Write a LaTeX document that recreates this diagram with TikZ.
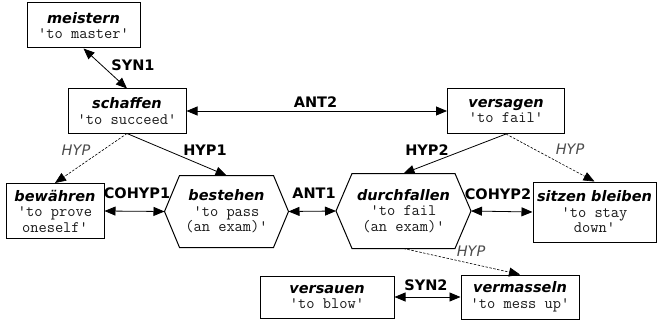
\documentclass[tikz,border=0pt]{standalone}
\usepackage{fontspec}
\setmainfont{DejaVu Sans}
\usetikzlibrary{arrows.meta}
\newcommand\nm[1]{{\bfseries\itshape #1}}
\newcommand\glf{\ttfamily\fontsize{16}{15.5}\selectfont\color{black!90}}
\newcommand\gl[1]{{\glf\textquotesingle#1\textquotesingle}}
\newcommand\gla[1]{{\glf\textquotesingle#1}}
\newcommand\glb[1]{{\glf#1\textquotesingle}}
\tikzset{
  lex/.style={draw, line width=1pt, inner sep=1pt, align=center, font=\fontsize{14.5}{15.5}\selectfont},
  hexbox/.style={lex, draw=none},
  rel/.style={line width=0.8pt, -{Triangle[length=11pt,width=9pt]}},
  birel/.style={line width=0.8pt, {Triangle[length=11pt,width=9pt]}-{Triangle[length=11pt,width=9pt]}},
  hyprel/.style={rel, dashed, dash pattern=on 2.5pt off 1.5pt, line width=0.6pt},
  lab/.style={font=\fontsize{14.5}{16}\selectfont\bfseries, inner sep=0pt},
  ilab/.style={font=\fontsize{14.5}{16}\selectfont\itshape, text=black!70, inner sep=0pt},
}
\begin{document}
\begin{tikzpicture}[x=1pt,y=-1pt]
\useasboundingbox (0,0) rectangle (659,321);
\node[lex, minimum width=113, minimum height=45] (meistern) at (83.5,25.5) {\nm{meistern}\\\gl{to master}};
\node[lex, minimum width=118, minimum height=44] (schaffen) at (127,111) {\nm{schaffen}\\\gl{to succeed}};
\node[lex, minimum width=117, minimum height=45] (versagen) at (506,111) {\nm{versagen}\\\gl{to fail}};
\node[lex, minimum width=98, minimum height=55] (bewaehren) at (55,211) {\nm{bewähren}\\\gla{to prove}\\\glb{oneself}};
\node[hexbox, minimum width=123, minimum height=71] (bestehen) at (226.5,211.5) {\nm{bestehen}\\\gla{to pass}\\\glb{(an exam)}};
\node[hexbox, minimum width=134, minimum height=74] (durchfallen) at (403.5,211) {\nm{durchfallen}\\\gla{to fail}\\\glb{(an exam)}};
\node[lex, minimum width=123, minimum height=60, inner sep=0pt] (sitzen) at (594.5,212) {\nm{sitzen bleiben}\\\gla{to stay}\\\glb{down}};
\node[lex, minimum width=134, minimum height=42] (versauen) at (327,297) {\nm{versauen}\\\gl{to blow}};
\node[lex, minimum width=118, minimum height=44] (vermasseln) at (520,297) {\nm{vermasseln}\\\gl{to mess up}};
% hexagon outlines
\foreach \h/\c in {bestehen/15, durchfallen/16}{
  \draw[line width=1pt] (\h.west) -- ([xshift=\c]\h.north west) -- ([xshift=-\c]\h.north east) -- (\h.east)
    -- ([xshift=-\c]\h.south east) -- ([xshift=\c]\h.south west) -- cycle;
}
% connectors
\draw[birel] (meistern.south) -- (schaffen.north);
\draw[birel] (schaffen.east) -- (versagen.west);
\draw[hyprel] (schaffen.south) -- (bewaehren.north);
\draw[rel] (schaffen.south) -- (bestehen.north);
\draw[rel] (versagen.south) -- (durchfallen.north);
\draw[hyprel] (versagen.south) -- (sitzen.north);
\draw[birel] (bewaehren.east) -- (bestehen.west);
\draw[birel] (bestehen.east) -- (durchfallen.west);
\draw[birel] (durchfallen.east) -- (sitzen.west);
\draw[hyprel] (durchfallen.south) -- (vermasseln.north);
\draw[birel] (versauen.east) -- (vermasseln.west);
% labels
\node[lab] (lsyn1) at (133,65) {SYN1};
\node[lab] (lant2) at (315.5,102) {ANT2};
\node[ilab] (lhypa) at (76,150) {HYP};
\node[lab] (lhyp1) at (205,150) {HYP1};
\node[lab] (lhyp2) at (427,150) {HYP2};
\node[ilab] (lhypb) at (570,149) {HYP};
\node[lab] (lcohyp1) at (137,193) {COHYP1};
\node[lab] (lant1) at (314,193) {ANT1};
\node[lab] (lcohyp2) at (498,194) {COHYP2};
\node[ilab] (lhypc) at (471,251) {HYP};
\node[lab] (lsyn2) at (426,285) {SYN2};
\end{tikzpicture}
\end{document}
